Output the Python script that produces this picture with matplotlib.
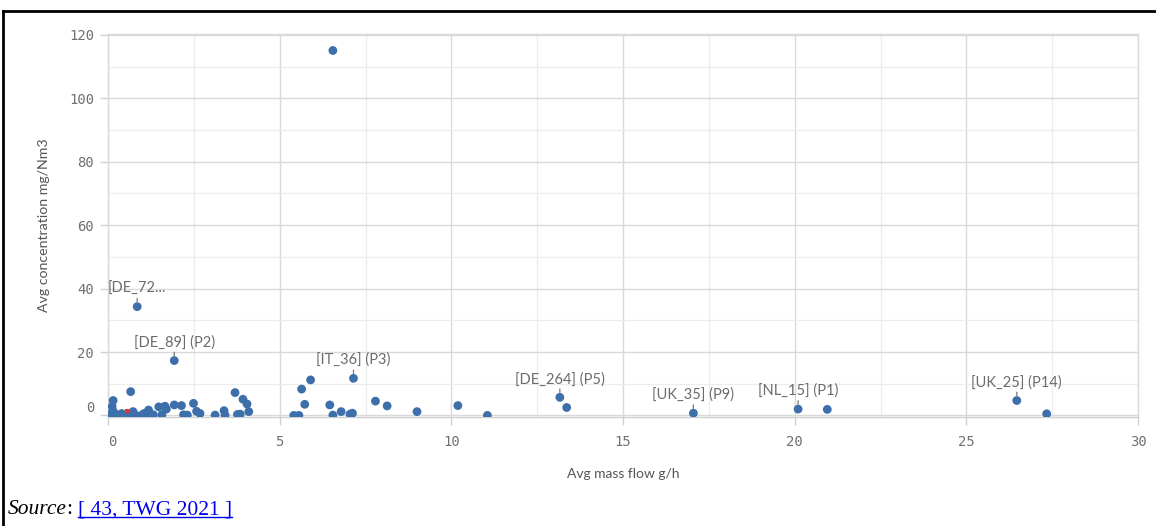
import matplotlib
matplotlib.use("Agg")
import matplotlib.pyplot as plt
from matplotlib.lines import Line2D
from matplotlib.ticker import MultipleLocator

# Average mass flow (g/h) and average concentration (mg/Nm3) per emission point
mass_flow = [0.12, 0.15, 0.66, 0.16, 0.05, 0.20, 0.30, 0.40, 0.60, 0.73,
             0.80, 1.00, 1.05, 1.18, 1.23, 1.32, 1.48, 1.57, 1.66, 1.70,
             1.93, 2.14, 2.20, 2.31, 2.49, 2.58, 2.68, 3.12, 3.38, 3.41,
             3.70, 3.77, 3.85, 3.93, 4.05, 4.10,
             0.85, 1.93, 6.55,
             5.41, 5.56, 5.64, 5.90, 5.73, 6.46, 6.55, 6.79, 7.05, 7.12,
             7.15, 7.79, 8.13, 9.00, 10.19, 11.05, 13.16, 13.36, 17.05,
             20.10, 20.95, 26.47, 27.34]
concentration = [2.8, 4.7, 7.5, 1.2, 0.3, 0.2, 0.1, 0.6, 0.4, 1.2,
                 0.1, 0.2, 0.6, 1.7, 0.1, 0.2, 2.7, 0.2, 2.9, 2.0,
                 3.3, 3.1, 0.2, 0.1, 3.8, 1.3, 0.6, 0.1, 1.5, 0.1,
                 7.2, 0.3, 0.4, 5.1, 3.6, 1.2,
                 34.3, 17.3, 115.1,
                 0.0, 0.0, 8.3, 11.2, 3.5, 3.3, 0.1, 1.2, 0.4, 0.7,
                 11.7, 4.5, 3.0, 1.2, 3.1, 0.0, 5.7, 2.5, 0.7,
                 2.0, 1.9, 4.7, 0.5]

# selected (red) point
sel_x = [0.55]
sel_y = [1.5]

# labelled points
label_text = ["[DE_72...", "[DE_89] (P2)", "[IT_36] (P3)", "[DE_264] (P5)",
              "[UK_35] (P9)", "[NL_15] (P1)", "[UK_25] (P14)"]
label_x = [0.85, 1.93, 7.15, 13.16, 17.05, 20.10, 26.47]
label_y = [34.3, 17.3, 11.7, 5.7, 0.7, 2.0, 4.7]

fig = plt.figure(figsize=(11.56, 5.26), dpi=100)
ax = fig.add_axes([108 / 1156, 1 - 417 / 526, 1030 / 1156, 383 / 526])

blue = "#3d6fab"
ax.scatter(mass_flow, concentration, s=40, color=blue, edgecolors="none", zorder=3)
ax.scatter(sel_x, sel_y, s=8, marker="s", color="#e8342c", edgecolors="none", zorder=4)

for t, x, y in zip(label_text, label_x, label_y):
    ax.annotate(t, xy=(x, y), xytext=(0, 8), textcoords="offset points",
                ha="center", va="bottom", fontsize=10.5, color="#6b6b6b",
                family="Lato", zorder=5,
                arrowprops=dict(arrowstyle="-", color="#777777", lw=0.9,
                                shrinkA=0, shrinkB=3.5, relpos=(0.5, 0)))

ax.set_xlim(0, 30)
ax.set_ylim(-0.5, 120.3)
ax.xaxis.set_major_locator(MultipleLocator(5))
ax.xaxis.set_minor_locator(MultipleLocator(2.5))
ax.yaxis.set_major_locator(MultipleLocator(20))
ax.yaxis.set_minor_locator(MultipleLocator(10))
ax.grid(which="major", color="#d9d9d9", lw=1.0, zorder=0)
ax.grid(which="minor", color="#ececec", lw=0.9, zorder=0)
ax.set_axisbelow(True)
for s in ax.spines.values():
    s.set_color("#d9d9d9")
    s.set_linewidth(1.0)
ax.spines["bottom"].set_color("#cfcfcf")

ax.tick_params(which="major", length=6, width=1, color="#d0d0d0",
               labelcolor="#707070", labelsize=10, pad=4)
ax.tick_params(which="minor", length=0)
for lab in ax.get_xticklabels() + ax.get_yticklabels():
    lab.set_family("DejaVu Sans Mono")
ax.tick_params(axis="x", pad=7)

ax.set_xlabel("Avg mass flow g/h", fontsize=10, color="#555555", family="Lato", labelpad=14)
ax.set_ylabel("Avg concentration mg/Nm3", fontsize=10.2, color="#555555", family="Lato", labelpad=14)

# frame lines of the page
fig.add_artist(Line2D([3 / 1156, 3 / 1156], [0, 1 - 11 / 526], color="black", lw=2))
fig.add_artist(Line2D([3 / 1156, 1], [1 - 11 / 526, 1 - 11 / 526], color="black", lw=2))

src = fig.text(8 / 1156, 1 - 510 / 526, "Source", fontsize=15.5, style="italic",
               family="Liberation Serif", va="center")
fig.canvas.draw()
r = fig.canvas.get_renderer()

# Qlik-style edge tick labels: bottom y label raised, first x label left aligned
for tk in ax.yaxis.get_major_ticks():
    if abs(tk.get_loc()) < 1e-9:
        tk.label1.set_verticalalignment("bottom")
for tk in ax.xaxis.get_major_ticks():
    if abs(tk.get_loc()) < 1e-9:
        tk.label1.set_horizontalalignment("left")

bb = src.get_window_extent(r)
colon = fig.text(bb.x1 / 1156, 1 - 510 / 526, ": ", fontsize=15.5,
                 family="Liberation Serif", va="center")
bb2 = colon.get_window_extent(r)
link = fig.text(bb2.x1 / 1156, 1 - 510 / 526, "[ 43, TWG 2021 ]", fontsize=15.5,
                family="Liberation Serif", va="center", color="#0000ee")
bb3 = link.get_window_extent(r)
uy = (bb3.y0 + 3) / 526
fig.add_artist(Line2D([bb3.x0 / 1156, bb3.x1 / 1156], [uy, uy], color="#0000ee", lw=1))

fig.savefig("out.png", dpi=100)
